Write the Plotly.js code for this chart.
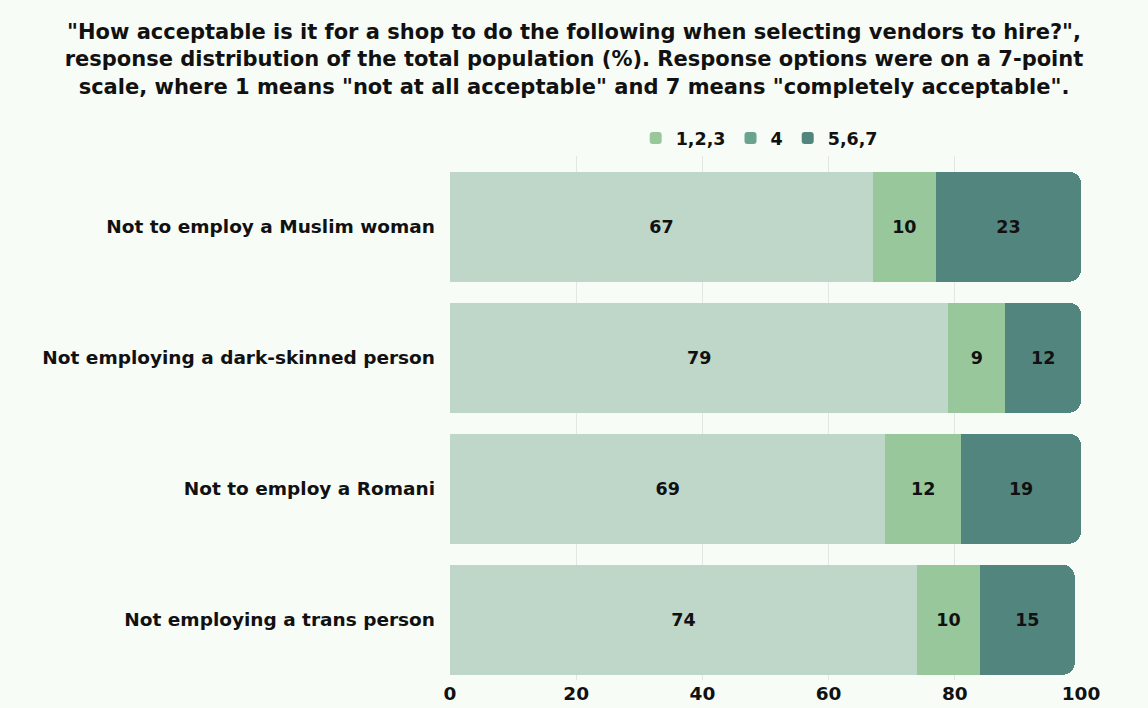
<!DOCTYPE html>
<html>
<head>
<meta charset="utf-8">
<script src="https://cdn.plot.ly/plotly-3.0.1.min.js"></script>
<style>
html,body{margin:0;padding:0;background:#f8fcf6;}
#chart{width:1148px;height:708px;}
</style>
</head>
<body>
<div id="chart"></div>
<script>
var categories = [
  "Not to employ a Muslim woman",
  "Not employing a dark-skinned person",
  "Not to employ a Romani",
  "Not employing a trans person"
];
var seriesNames = ["1,2,3", "4", "5,6,7"];
var low = [67, 79, 69, 74];
var mid = [10, 9, 12, 10];
var high = [23, 12, 19, 15];
var xTicks = [0, 20, 40, 60, 80, 100];

var barColors = ["#bfd7c9", "#97c79a", "#53857f"];
var legendColors = ["#98c89a", "#6aa38e", "#53857f"];
var values = [low, mid, high];

var FONT = "'DejaVu Sans', sans-serif";
var labelFont = {family: FONT, size: 17.5, color: "#111", weight: "bold"};

var traces = [];
for (var i = 0; i < 3; i++) {
  traces.push({
    type: "bar",
    orientation: "h",
    y: categories,
    x: values[i],
    name: seriesNames[i],
    showlegend: false,
    marker: {color: barColors[i], line: {width: 0}},
    text: values[i].map(String),
    textposition: "inside",
    insidetextanchor: "middle",
    textfont: labelFont,
    hoverinfo: "x+y"
  });
}
for (var j = 0; j < 3; j++) {
  traces.push({
    type: "bar",
    orientation: "h",
    y: [categories[0]],
    x: [null],
    name: seriesNames[j],
    marker: {color: legendColors[j]},
    showlegend: true,
    hoverinfo: "skip"
  });
}

var layout = {
  width: 1148,
  height: 708,
  paper_bgcolor: "#f8fcf6",
  plot_bgcolor: "#f8fcf6",
  barmode: "stack",
  bargap: 0.16,
  barcornerradius: 12,
  margin: {l: 450, r: 67, t: 156, b: 28},
  title: {
    text: "\"How acceptable is it for a shop to do the following when selecting vendors to hire?\",<br>response distribution of the total population (%). Response options were on a 7-point<br>scale, where 1 means \"not at all acceptable\" and 7 means \"completely acceptable\".",
    font: {family: FONT, size: 21, color: "#111", weight: "bold"},
    x: 0.5,
    xanchor: "center",
    y: 0.945,
    yanchor: "top"
  },
  legend: {
    orientation: "h",
    x: 0.49,
    xanchor: "center",
    y: 1.0,
    yanchor: "bottom",
    font: {family: FONT, size: 17.5, color: "#111", weight: "bold"},
    bgcolor: "rgba(0,0,0,0)",
    traceorder: "normal"
  },
  xaxis: {
    range: [0, 100],
    tickvals: xTicks,
    ticktext: xTicks.map(String),
    showgrid: true,
    gridcolor: "#e3e6e2",
    gridwidth: 1,
    zeroline: false,
    showline: false,
    ticks: "",
    tickfont: {family: FONT, size: 18.5, color: "#111", weight: "bold"},
    fixedrange: true
  },
  yaxis: {
    range: [3.46, -0.54],
    showgrid: false,
    zeroline: false,
    ticks: "",
    ticklabelstandoff: 14,
    tickfont: {family: FONT, size: 18.5, color: "#111", weight: "bold"},
    fixedrange: true
  },
  uniformtext: {mode: "show", minsize: 10},
  font: {family: FONT}
};

Plotly.newPlot("chart", traces, layout, {displayModeBar: false});
</script>
</body>
</html>
